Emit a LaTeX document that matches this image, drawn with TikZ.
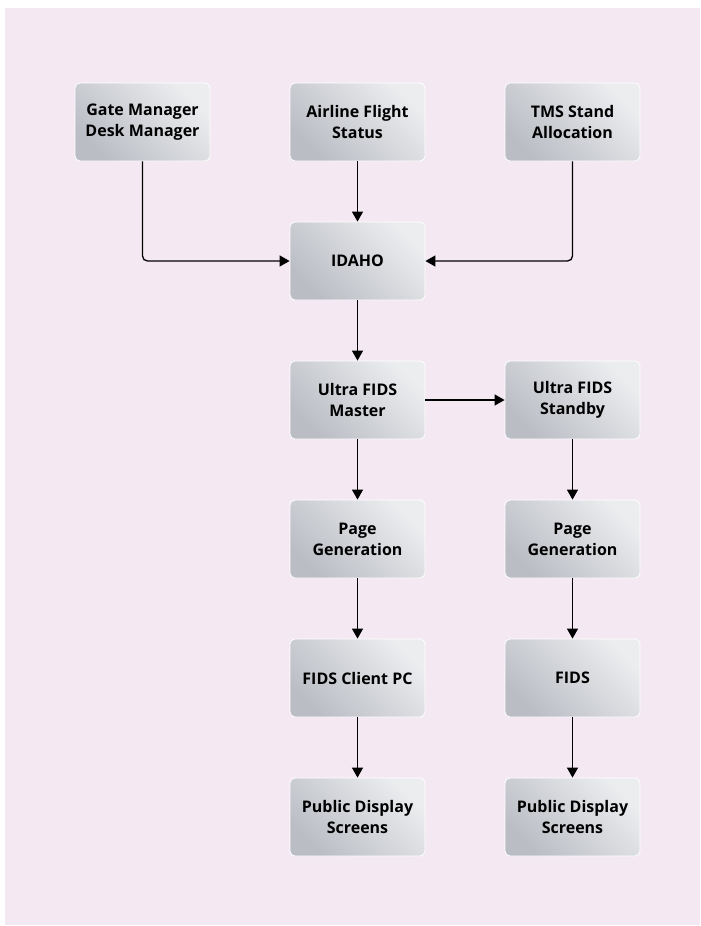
\documentclass[tikz,border=0pt]{standalone}
\usepackage{fontspec}
\setsansfont{Open Sans}
\usetikzlibrary{arrows.meta}
\definecolor{panelpink}{RGB}{244,233,242}
\definecolor{boxlight}{RGB}{236,237,239}
\definecolor{boxdark}{RGB}{186,189,196}
\begin{document}
\begin{tikzpicture}[x=1pt,y=-1pt]
    \tikzstyle{unit}=[rounded corners=5pt, draw=white, line width=0.8pt, top color=boxlight, bottom color=boxdark, shading angle=-45, minimum width=135pt, minimum height=78pt, align=center, font=\sffamily\bfseries\fontsize{16}{21}\selectfont]
    \tikzstyle{link}=[line width=1.3pt, -{Triangle[length=10pt,width=11pt]}, rounded corners=5pt]
    \useasboundingbox (0,0) rectangle (701,926);
    \fill [panelpink] (5,8) rectangle (700,925);
    \node [unit] (gate) at (142.5,122) {Gate Manager\\Desk Manager};
    \node [unit] (airline) at (357.5,122) {Airline Flight\\Status};
    \node [unit] (tms) at (572.5,122) {TMS Stand\\Allocation};
    \node [unit] (idaho) at (357.5,261) {IDAHO};
    \node [unit] (master) at (357.5,400) {Ultra FIDS\\Master};
    \node [unit] (standby) at (572.5,400) {Ultra FIDS\\Standby};
    \node [unit] (pagea) at (357.5,539) {Page\\Generation};
    \node [unit] (pageb) at (572.5,539) {Page\\Generation};
    \node [unit] (client) at (357.5,678) {FIDS Client PC};
    \node [unit] (fids) at (572.5,678) {FIDS};
    \node [unit] (screensa) at (357.5,817) {Public Display\\Screens};
    \node [unit] (screensb) at (572.5,817) {Public Display\\Screens};
    \draw [link] (gate) |- (idaho);
    \draw [link] (tms) |- (idaho);
    \draw [link] (airline) -- (idaho);
    \draw [link] (idaho) -- (master);
    \draw [link] (master) -- (standby);
    \draw [link] (master) -- (pagea);
    \draw [link] (standby) -- (pageb);
    \draw [link] (pagea) -- (client);
    \draw [link] (pageb) -- (fids);
    \draw [link] (client) -- (screensa);
    \draw [link] (fids) -- (screensb);
\end{tikzpicture}
\end{document}
